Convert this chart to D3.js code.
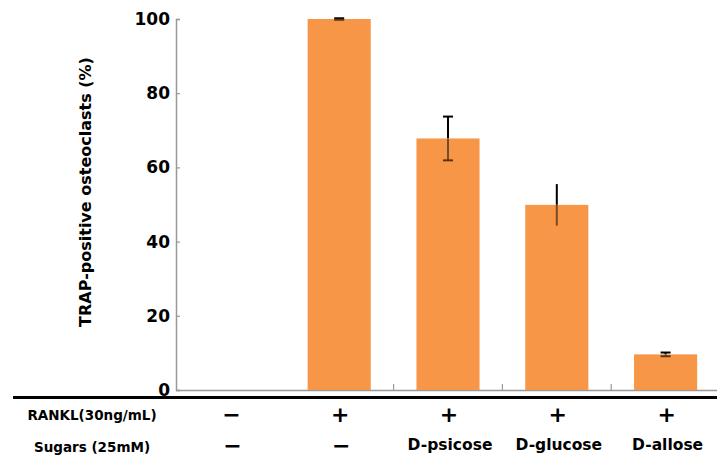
<!DOCTYPE html>
<html>
<head>
<meta charset="utf-8">
<script src="https://cdn.jsdelivr.net/npm/d3@7/dist/d3.min.js"></script>
<style>
  body { margin: 0; background: #fff; }
  svg { display: block; }
  text { font-family: "DejaVu Sans", "Liberation Sans", Arial, sans-serif; font-weight: bold; fill: #000; }
</style>
</head>
<body>
<svg id="chart" width="717" height="459"></svg>
<script>
// ---- data ----
const categories = ["ctrl", "RANKL", "D-psicose", "D-glucose", "D-allose"];
const values = [0, 100, 67.8, 49.9, 9.6];
const errors = [0, 0.2, 5.9, 5.6, 0.5];
const errorCaps = [false, true, true, false, true];
const rankl = ["−", "+", "+", "+", "+"];
const sugars = ["−", "−", "D-psicose", "D-glucose", "D-allose"];
const yTicks = [0, 20, 40, 60, 80, 100];
const rowLabels = ["RANKL(30ng/mL)", "Sugars (25mM)"];
const yTitle = "TRAP-positive osteoclasts (%)";

const svg = d3.select("#chart");
const barColor = "#F79646";
const axisColor = "#999";

const x = d3.scaleBand().domain(categories).range([176, 720]).paddingInner(0.42).paddingOuter(0.21);
const y = d3.scaleLinear().domain([0, 100]).range([390, 19]);

// y axis
const yAxis = d3.axisLeft(y).tickValues(yTicks).tickSize(-4).tickPadding(10).tickFormat(d3.format("d"));
const gy = svg.append("g").attr("transform", "translate(176,0)").call(yAxis);
gy.select(".domain").attr("stroke", axisColor).attr("stroke-width", 1.5);
gy.selectAll(".tick line").attr("stroke", axisColor).attr("stroke-width", 1.2);
gy.selectAll(".tick text").style("font-size", "17px").attr("font-family", null).attr("x", -6);

// x axis line
svg.append("line").attr("x1", 176).attr("x2", 717).attr("y1", y(0) + 0.5).attr("y2", y(0) + 0.5)
  .attr("stroke", axisColor).attr("stroke-width", 1.5);
// x ticks at band boundaries (between bands 2-3, 3-4, 4-5)
const boundaries = categories.slice(2).map(c => x(c) - x.step() * x.paddingInner() / 2);
svg.selectAll(".xtick").data(boundaries).enter().append("line")
  .attr("x1", d => d).attr("x2", d => d)
  .attr("y1", y(0)).attr("y2", y(0) - 6)
  .attr("stroke", axisColor).attr("stroke-width", 1.2);

// thick black line
svg.append("line").attr("x1", 13).attr("x2", 717).attr("y1", 397.5).attr("y2", 397.5)
  .attr("stroke", "#000").attr("stroke-width", 3);

// error bars (upper part above bars)
categories.forEach((c, i) => {
  if (values[i] <= 0) return;
  const cx = x(c) + x.bandwidth() / 2;
  const top = y(values[i] + errors[i]);
  svg.append("line").attr("x1", cx).attr("x2", cx).attr("y1", top).attr("y2", y(values[i]))
    .attr("stroke", "#000").attr("stroke-width", 2);
  if (errorCaps[i]) {
    svg.append("line").attr("x1", cx - 5).attr("x2", cx + 5).attr("y1", top).attr("y2", top)
      .attr("stroke", "#000").attr("stroke-width", 2);
  }
});

// bars
svg.selectAll(".bar").data(categories).enter().append("rect")
  .attr("x", d => x(d)).attr("width", x.bandwidth())
  .attr("y", (d, i) => y(values[i]))
  .attr("height", (d, i) => y(0) - y(values[i]))
  .attr("fill", barColor);

// lower error part (seen through bar)
categories.forEach((c, i) => {
  if (values[i] <= 0) return;
  const cx = x(c) + x.bandwidth() / 2;
  const bot = y(values[i] - errors[i]);
  svg.append("line").attr("x1", cx).attr("x2", cx).attr("y1", y(values[i])).attr("y2", bot)
    .attr("stroke", "#7a4a22").attr("stroke-width", 2);
  if (errorCaps[i]) {
    svg.append("line").attr("x1", cx - 5).attr("x2", cx + 5).attr("y1", bot).attr("y2", bot)
      .attr("stroke", "#5a3515").attr("stroke-width", 2);
  }
});

// y title
svg.append("text")
  .attr("transform", "translate(91,192) rotate(-90)")
  .attr("text-anchor", "middle")
  .style("font-size", "16px")
  .text(yTitle);

// row labels
svg.append("text").attr("x", 92).attr("y", 420).attr("text-anchor", "middle").style("font-size", "13.5px").text(rowLabels[0]);
svg.append("text").attr("x", 92).attr("y", 452).attr("text-anchor", "middle").style("font-size", "13.5px").text(rowLabels[1]);

// RANKL row
svg.selectAll(".rk").data(categories).enter().append("text")
  .attr("x", d => x(d) + x.bandwidth() / 2 + 1)
  .attr("y", 422)
  .attr("text-anchor", "middle")
  .style("font-size", "22px")
  .text((d, i) => rankl[i]);

// Sugars row
svg.selectAll(".sg").data(categories).enter().append("text")
  .attr("x", d => x(d) + x.bandwidth() / 2 + 2)
  .attr("y", (d, i) => sugars[i] === "−" ? 453 : 450)
  .attr("text-anchor", "middle")
  .style("font-size", (d, i) => sugars[i] === "−" ? "22px" : "15.5px")
  .text((d, i) => sugars[i]);
</script>
</body>
</html>
